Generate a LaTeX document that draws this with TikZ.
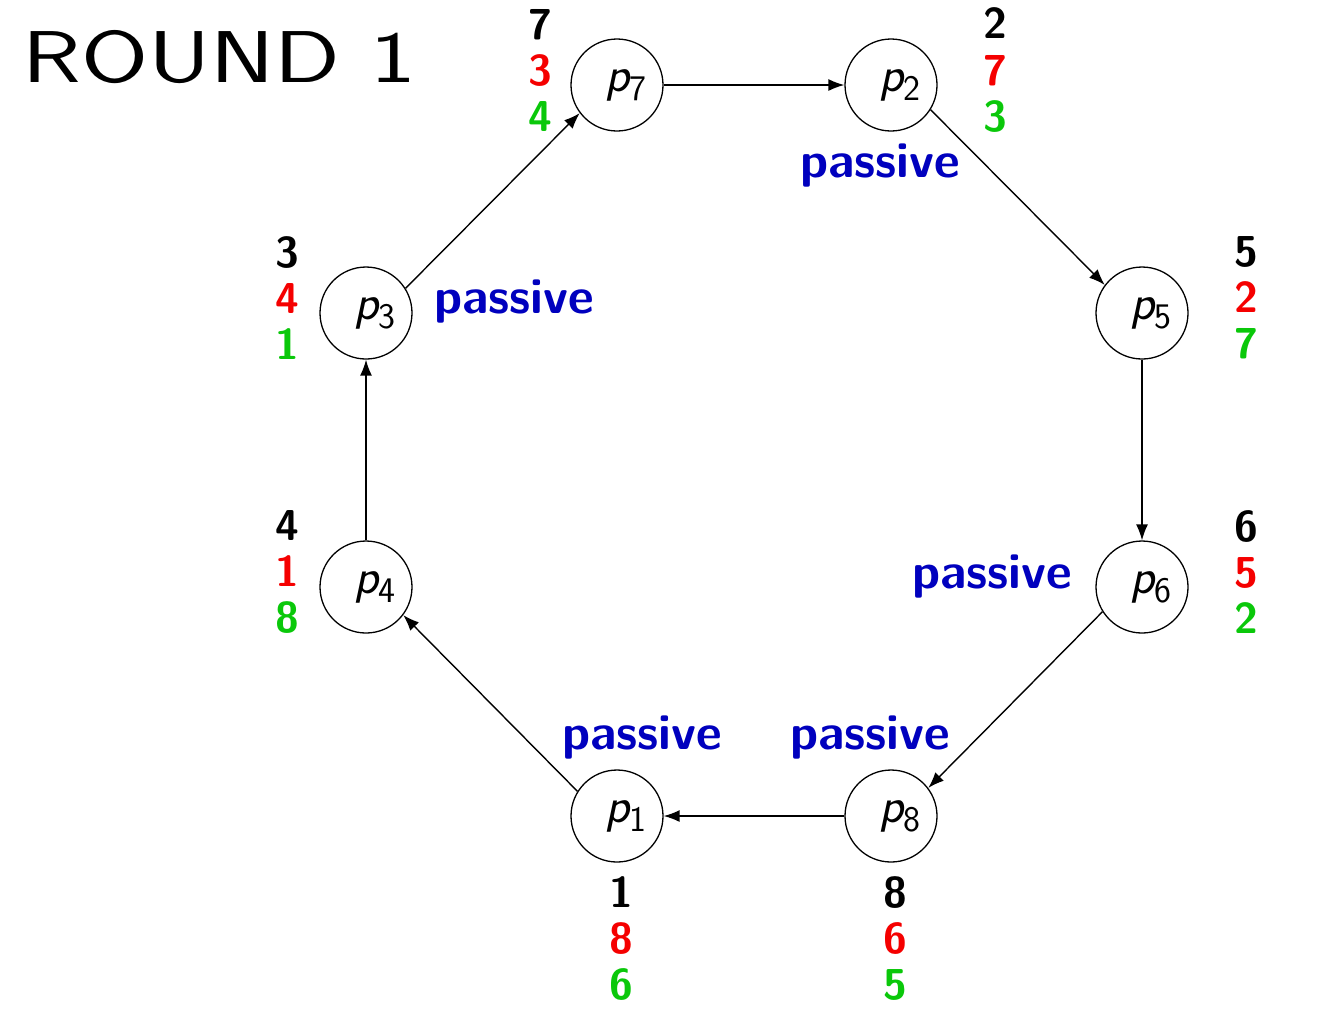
\documentclass[tikz,border=0pt]{standalone}
\usepackage{graphicx}
\usetikzlibrary{arrows.meta}
\definecolor{cred}{RGB}{245,0,0}
\definecolor{cgreen}{RGB}{10,200,10}
\definecolor{cblue}{RGB}{0,0,190}
\newcommand\plab[1]{\hspace*{9pt}{\fontsize{25}{25}\selectfont\sffamily\itshape p}\raisebox{-4.5pt}{\fontsize{18}{18}\selectfont\sffamily #1}}
\newcommand\stk[3]{#1\\\textcolor{cred}{#2}\\\textcolor{cgreen}{#3}}
\begin{document}
\begin{tikzpicture}[x=0.5pt,y=-0.5pt,
  proc/.style={circle,draw,line width=0.65pt,minimum size=46pt,inner sep=0pt},
  edge/.style={line width=0.7pt,-{Latex[length=8pt,width=6pt]}},
  num/.style={align=center,inner sep=0pt,font=\sffamily\bfseries\fontsize{21.6}{23}\selectfont},
  pas/.style={anchor=base,inner sep=0pt,text=cblue,font=\sffamily\bfseries\fontsize{25}{25}\selectfont}]
\fill[white] (0,0) rectangle (1320,1014);
\useasboundingbox (0,0) rectangle (1320,1014);

\node[anchor=base west,inner sep=0pt,font=\sffamily\fontsize{36.7}{40}\selectfont] (title) at (22,82) {\scalebox{1.32}[1]{ROUND 1}};

\node[proc] (p7) at (617,85) {\plab{7}};
\node[proc] (p2) at (891,85) {\plab{2}};
\node[proc] (p5) at (1142,313) {\plab{5}};
\node[proc] (p6) at (1142,587) {\plab{6}};
\node[proc] (p8) at (891,816) {\plab{8}};
\node[proc] (p1) at (617,816) {\plab{1}};
\node[proc] (p4) at (366,587) {\plab{4}};
\node[proc] (p3) at (366,313) {\plab{3}};

\draw[edge] (p7) -- (p2);
\draw[edge] (p2.-32) -- (p5.143);
\draw[edge] (p5) -- (p6);
\draw[edge] (p6.212) -- (p8.37);
\draw[edge] (p8) -- (p1);
\draw[edge] (p1.148) -- (p4.-37);
\draw[edge] (p4) -- (p3);
\draw[edge] (p3.32) -- (p7.217);

\node[num] (n7) at (540,70) {\stk{7}{3}{4}};
\node[num] (n2) at (995,70) {\stk{2}{7}{3}};
\node[num] (n5) at (1246,298) {\stk{5}{2}{7}};
\node[num] (n6) at (1246,572) {\stk{6}{5}{2}};
\node[num] (n8) at (895,938) {\stk{8}{6}{5}};
\node[num] (n1) at (621,938) {\stk{1}{8}{6}};
\node[num] (n4) at (287,572) {\stk{4}{1}{8}};
\node[num] (n3) at (287,298) {\stk{3}{4}{1}};

\node[pas] (a2) at (880,177) {passive};
\node[pas] (a3) at (514,313) {passive};
\node[pas] (a6) at (992,588) {passive};
\node[pas] (a1) at (642,749) {passive};
\node[pas] (a8) at (870,749) {passive};
\end{tikzpicture}
\end{document}
